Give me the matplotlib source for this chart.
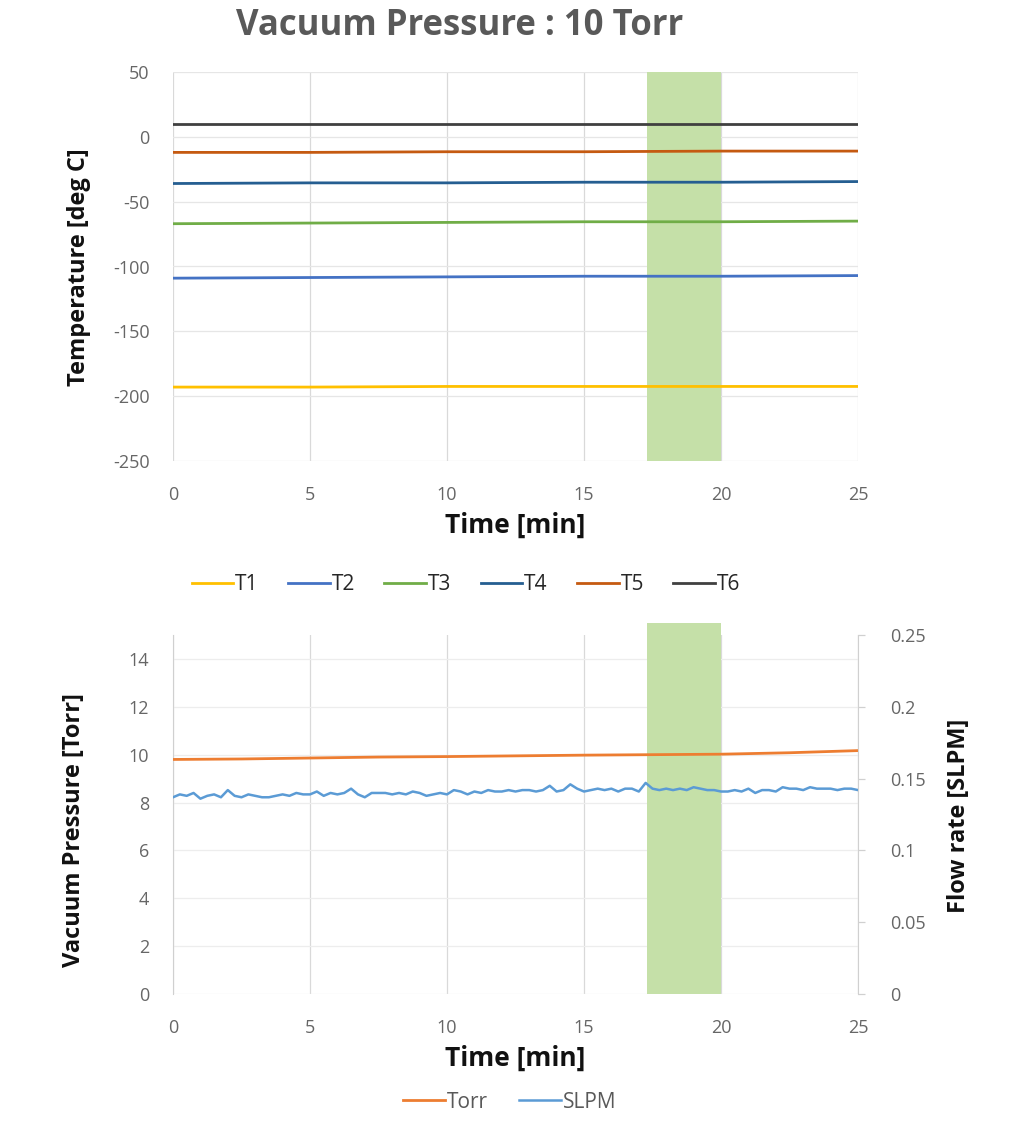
import matplotlib
matplotlib.use("Agg")
import matplotlib.pyplot as plt
import numpy as np

plt.rcParams['font.family'] = ['Open Sans', 'DejaVu Sans']
plt.rcParams['axes.unicode_minus'] = False

# ---------------- data ----------------
t_temp = [0, 5, 10, 15, 20, 25]
T1 = [-193, -193, -192.5, -192.5, -192.5, -192.5]
T2 = [-109, -108.5, -108, -107.5, -107.5, -107]
T3 = [-67, -66.5, -66, -65.5, -65.5, -65]
T4 = [-36, -35.5, -35.5, -35, -35, -34.5]
T5 = [-12, -12, -11.5, -11.5, -11, -11]
T6 = [10, 10, 10, 10, 10, 10]
temp_names = ['T1', 'T2', 'T3', 'T4', 'T5', 'T6']
temp_colors = ['#FFC000', '#4472C4', '#70AD47', '#255E91', '#C55A11', '#404040']

t_torr = [0, 2.5, 5, 7.5, 10, 12.5, 15, 17.5, 20, 22.5, 25]
torr = [9.8, 9.82, 9.86, 9.9, 9.92, 9.95, 9.98, 10.0, 10.02, 10.08, 10.17]

slpm = [0.137, 0.139, 0.138, 0.140, 0.136, 0.138, 0.139, 0.137, 0.142, 0.138,
        0.137, 0.139, 0.138, 0.137, 0.137, 0.138, 0.139, 0.138, 0.140, 0.139,
        0.139, 0.141, 0.138, 0.140, 0.139, 0.140, 0.143, 0.139, 0.137, 0.140,
        0.140, 0.140, 0.139, 0.140, 0.139, 0.141, 0.140, 0.138, 0.139, 0.140,
        0.139, 0.142, 0.141, 0.139, 0.141, 0.140, 0.142, 0.141, 0.141, 0.142,
        0.141, 0.142, 0.142, 0.141, 0.142, 0.145, 0.141, 0.142, 0.146, 0.143,
        0.141, 0.142, 0.143, 0.142, 0.143, 0.141, 0.143, 0.143, 0.141, 0.147,
        0.143, 0.142, 0.143, 0.142, 0.143, 0.142, 0.144, 0.143, 0.142, 0.142,
        0.141, 0.141, 0.142, 0.141, 0.143, 0.140, 0.142, 0.142, 0.141, 0.144,
        0.143, 0.143, 0.142, 0.144, 0.143, 0.143, 0.143, 0.142, 0.143, 0.143,
        0.142]
t_slpm = [i * 0.25 for i in range(len(slpm))]

span = (17.3, 20.0)
xticks = [0, 5, 10, 15, 20, 25]
title = 'Vacuum Pressure : 10 Torr'

# ---------------- figure ----------------
W, H = 1013, 1128
fig = plt.figure(figsize=(W / 100, H / 100), dpi=100)

grid_c = '#D9D9D9'
tick_c = '#666666'
span_c = '#C5E0A8'
lab_c = '#111111'
axis_c = '#D0D0D0'

def style(ax):
    for s in ax.spines.values():
        s.set_visible(False)
    ax.tick_params(axis='x', length=0, colors=tick_c, labelsize=13, pad=18)
    ax.tick_params(axis='y', length=0, colors=tick_c, labelsize=13, pad=17)
    ax.grid(True, color=grid_c, linewidth=0.9)
    ax.set_axisbelow(True)

# top axes
ax1 = fig.add_axes([173 / W, 1 - 461 / H, 685 / W, 389 / H])
style(ax1)
ax1.grid(True, axis='y', color='#E6E6E6', linewidth=0.9)
ax1.axvspan(span[0], span[1], color=span_c, zorder=1, lw=0)
for vals, name, c in zip([T1, T2, T3, T4, T5, T6], temp_names, temp_colors):
    ax1.plot(t_temp, vals, color=c, lw=2, label=name, zorder=3)
ax1.set_xlim(0, 25)
ax1.set_ylim(-250, 50)
ax1.set_xticks(xticks)
ax1.set_yticks(range(-250, 51, 50))
ax1.set_xlabel('Time [min]', fontsize=19, fontweight='bold', color=lab_c)
ax1.xaxis.set_label_coords(0.5, -(512 - 461) / 389)
ax1.set_ylabel('Temperature [deg C]', fontsize=17, fontweight='bold', color=lab_c)
ax1.yaxis.set_label_coords((91 - 173) / 685, (461 - 267) / 389)
ax1.legend(loc='center', bbox_to_anchor=((466 - 173) / 685, -(585 - 461) / 389), ncol=6,
           frameon=False, fontsize=15, handlelength=2.0, handletextpad=0.1,
           columnspacing=1.4, labelcolor='#262626')
fig.text(460 / W, 1 - 26 / H, title, ha='center', va='center',
         fontsize=25, fontweight='bold', color='#595959')

# bottom axes
ax2 = fig.add_axes([173 / W, 1 - 994 / H, 685 / W, 359 / H])
style(ax2)
ax2.grid(True, axis='y', color='#EDEDED', linewidth=0.9)
ax2.spines['left'].set_visible(True)
ax2.spines['left'].set_color(axis_c)
ax2.axvspan(span[0], span[1], ymin=0, ymax=(994 - 623) / 359, color=span_c,
            zorder=1, lw=0, clip_on=False)
l1, = ax2.plot(t_torr, torr, color='#ED7D31', lw=2, label='Torr', zorder=3)
ax2.set_xlim(0, 25)
ax2.set_ylim(0, 15)
ax2.set_xticks(xticks)
ax2.set_yticks(range(0, 15, 2))
ax2.set_xlabel('Time [min]', fontsize=19, fontweight='bold', color=lab_c)
ax2.xaxis.set_label_coords(0.5, -(1045 - 994) / 359)
ax2.set_ylabel('Vacuum Pressure [Torr]', fontsize=17, fontweight='bold', color=lab_c)
ax2.yaxis.set_label_coords((86 - 173) / 685, (994 - 830) / 359)

ax3 = ax2.twinx()
for s in ax3.spines.values():
    s.set_visible(False)
ax3.spines['right'].set_visible(True)
ax3.spines['right'].set_color(axis_c)
ax3.tick_params(length=5, width=0.9, color=axis_c, labelcolor=tick_c, labelsize=13, pad=18)
l2, = ax3.plot(t_slpm, slpm, color='#5B9BD5', lw=1.8, label='SLPM', zorder=3)
ax3.set_ylim(0, 0.25)
ax3.set_yticks([0, 0.05, 0.1, 0.15, 0.2, 0.25])
ax3.set_yticklabels(['0', '0.05', '0.1', '0.15', '0.2', '0.25'])
ax3.set_ylabel('Flow rate [SLPM]', fontsize=17, fontweight='bold', color=lab_c)
ax3.yaxis.set_label_coords((947 - 173) / 685, (994 - 816) / 359)

ax2.legend([l1, l2], ['Torr', 'SLPM'], loc='center',
           bbox_to_anchor=((510 - 173) / 685, -(1102 - 994) / 359), ncol=2, frameon=False,
           fontsize=15, handlelength=2.0, handletextpad=0.1, columnspacing=1.5,
           labelcolor='#595959')

fig.savefig('out.png', dpi=100)
